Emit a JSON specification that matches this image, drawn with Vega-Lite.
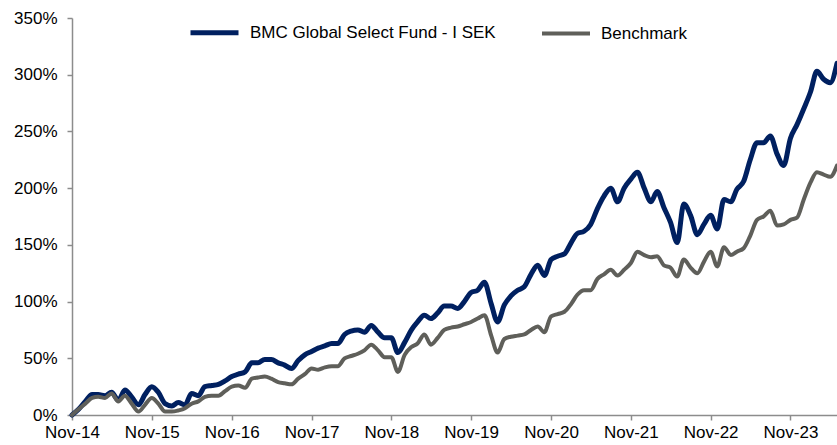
{
  "$schema": "https://vega.github.io/schema/vega-lite/v6.json",
  "width": 765,
  "height": 397,
  "autosize": "none",
  "padding": {"left": 72, "top": 18, "right": 0, "bottom": 30},
  "background": "white",
  "config": {
    "view": {"stroke": null},
    "font": "Liberation Sans"
  },
  "data": {
    "values": [
      {"date":"2014-11-01","fund":0,"index":0},
      {"date":"2014-12-01","fund":5,"index":5},
      {"date":"2015-01-01","fund":12,"index":10},
      {"date":"2015-02-01","fund":18,"index":15},
      {"date":"2015-03-01","fund":18,"index":16},
      {"date":"2015-04-01","fund":17,"index":15},
      {"date":"2015-05-01","fund":20,"index":19},
      {"date":"2015-06-01","fund":13,"index":12},
      {"date":"2015-07-01","fund":22,"index":17},
      {"date":"2015-08-01","fund":16,"index":10},
      {"date":"2015-09-01","fund":9,"index":3},
      {"date":"2015-10-01","fund":18,"index":9},
      {"date":"2015-11-01","fund":25,"index":15},
      {"date":"2015-12-01","fund":20,"index":10},
      {"date":"2016-01-01","fund":10,"index":3},
      {"date":"2016-02-01","fund":8,"index":3},
      {"date":"2016-03-01","fund":11,"index":4},
      {"date":"2016-04-01","fund":9,"index":6},
      {"date":"2016-05-01","fund":19,"index":10},
      {"date":"2016-06-01","fund":17,"index":12},
      {"date":"2016-07-01","fund":25,"index":16},
      {"date":"2016-08-01","fund":26,"index":17},
      {"date":"2016-09-01","fund":27,"index":17},
      {"date":"2016-10-01","fund":30,"index":21},
      {"date":"2016-11-01","fund":34,"index":25},
      {"date":"2016-12-01","fund":36,"index":26},
      {"date":"2017-01-01","fund":38,"index":24},
      {"date":"2017-02-01","fund":46,"index":32},
      {"date":"2017-03-01","fund":46,"index":33},
      {"date":"2017-04-01","fund":49,"index":34},
      {"date":"2017-05-01","fund":49,"index":32},
      {"date":"2017-06-01","fund":46,"index":29},
      {"date":"2017-07-01","fund":44,"index":28},
      {"date":"2017-08-01","fund":41,"index":27},
      {"date":"2017-09-01","fund":48,"index":32},
      {"date":"2017-10-01","fund":53,"index":36},
      {"date":"2017-11-01","fund":56,"index":41},
      {"date":"2017-12-01","fund":59,"index":40},
      {"date":"2018-01-01","fund":61,"index":42},
      {"date":"2018-02-01","fund":63,"index":43},
      {"date":"2018-03-01","fund":63,"index":43},
      {"date":"2018-04-01","fund":71,"index":50},
      {"date":"2018-05-01","fund":74,"index":52},
      {"date":"2018-06-01","fund":75,"index":54},
      {"date":"2018-07-01","fund":73,"index":57},
      {"date":"2018-08-01","fund":79,"index":62},
      {"date":"2018-09-01","fund":73,"index":57},
      {"date":"2018-10-01","fund":68,"index":51},
      {"date":"2018-11-01","fund":68,"index":51},
      {"date":"2018-12-01","fund":55,"index":38},
      {"date":"2019-01-01","fund":64,"index":53},
      {"date":"2019-02-01","fund":75,"index":60},
      {"date":"2019-03-01","fund":82,"index":63},
      {"date":"2019-04-01","fund":88,"index":71},
      {"date":"2019-05-01","fund":85,"index":62},
      {"date":"2019-06-01","fund":90,"index":68},
      {"date":"2019-07-01","fund":96,"index":75},
      {"date":"2019-08-01","fund":96,"index":77},
      {"date":"2019-09-01","fund":94,"index":78},
      {"date":"2019-10-01","fund":100,"index":80},
      {"date":"2019-11-01","fund":108,"index":82},
      {"date":"2019-12-01","fund":110,"index":85},
      {"date":"2020-01-01","fund":117,"index":88},
      {"date":"2020-02-01","fund":98,"index":70},
      {"date":"2020-03-01","fund":82,"index":55},
      {"date":"2020-04-01","fund":97,"index":67},
      {"date":"2020-05-01","fund":105,"index":69},
      {"date":"2020-06-01","fund":110,"index":70},
      {"date":"2020-07-01","fund":113,"index":71},
      {"date":"2020-08-01","fund":124,"index":75},
      {"date":"2020-09-01","fund":132,"index":78},
      {"date":"2020-10-01","fund":123,"index":73},
      {"date":"2020-11-01","fund":137,"index":87},
      {"date":"2020-12-01","fund":140,"index":89},
      {"date":"2021-01-01","fund":142,"index":91},
      {"date":"2021-02-01","fund":152,"index":98},
      {"date":"2021-03-01","fund":160,"index":106},
      {"date":"2021-04-01","fund":162,"index":110},
      {"date":"2021-05-01","fund":168,"index":110},
      {"date":"2021-06-01","fund":182,"index":120},
      {"date":"2021-07-01","fund":193,"index":124},
      {"date":"2021-08-01","fund":200,"index":128},
      {"date":"2021-09-01","fund":188,"index":123},
      {"date":"2021-10-01","fund":200,"index":128},
      {"date":"2021-11-01","fund":208,"index":134},
      {"date":"2021-12-01","fund":214,"index":144},
      {"date":"2022-01-01","fund":200,"index":141},
      {"date":"2022-02-01","fund":188,"index":139},
      {"date":"2022-03-01","fund":197,"index":140},
      {"date":"2022-04-01","fund":183,"index":132},
      {"date":"2022-05-01","fund":170,"index":130},
      {"date":"2022-06-01","fund":152,"index":122},
      {"date":"2022-07-01","fund":186,"index":137},
      {"date":"2022-08-01","fund":176,"index":130},
      {"date":"2022-09-01","fund":159,"index":125},
      {"date":"2022-10-01","fund":168,"index":135},
      {"date":"2022-11-01","fund":176,"index":144},
      {"date":"2022-12-01","fund":164,"index":131},
      {"date":"2023-01-01","fund":190,"index":148},
      {"date":"2023-02-01","fund":188,"index":141},
      {"date":"2023-03-01","fund":199,"index":144},
      {"date":"2023-04-01","fund":206,"index":147},
      {"date":"2023-05-01","fund":225,"index":158},
      {"date":"2023-06-01","fund":240,"index":172},
      {"date":"2023-07-01","fund":240,"index":175},
      {"date":"2023-08-01","fund":246,"index":180},
      {"date":"2023-09-01","fund":230,"index":167},
      {"date":"2023-10-01","fund":220,"index":168},
      {"date":"2023-11-01","fund":244,"index":172},
      {"date":"2023-12-01","fund":256,"index":174},
      {"date":"2024-01-01","fund":270,"index":190},
      {"date":"2024-02-01","fund":285,"index":205},
      {"date":"2024-03-01","fund":303,"index":214},
      {"date":"2024-04-01","fund":296,"index":212},
      {"date":"2024-05-01","fund":293,"index":210},
      {"date":"2024-06-01","fund":310,"index":220}
    ]
  },
  "transform": [
    {"fold": ["fund", "index"], "as": ["series", "value"]}
  ],
  "mark": {"type": "line", "interpolate": "monotone", "strokeCap": "round", "strokeJoin": "round"},
  "encoding": {
    "x": {
      "field": "date",
      "type": "temporal",
      "timeUnit": "utcyearmonth",
      "scale": {
        "domain": [
          {"year": 2014, "month": "nov", "date": 1, "utc": true},
          {"year": 2024, "month": "jun", "date": 1, "utc": true}
        ]
      },
      "axis": {
        "title": null,
        "format": "%b-%y",
        "values": [
          {"year": 2014, "month": "nov", "date": 1, "utc": true},
          {"year": 2015, "month": "nov", "date": 1, "utc": true},
          {"year": 2016, "month": "nov", "date": 1, "utc": true},
          {"year": 2017, "month": "nov", "date": 1, "utc": true},
          {"year": 2018, "month": "nov", "date": 1, "utc": true},
          {"year": 2019, "month": "nov", "date": 1, "utc": true},
          {"year": 2020, "month": "nov", "date": 1, "utc": true},
          {"year": 2021, "month": "nov", "date": 1, "utc": true},
          {"year": 2022, "month": "nov", "date": 1, "utc": true},
          {"year": 2023, "month": "nov", "date": 1, "utc": true}
        ],
        "grid": false,
        "domainColor": "#8c8c8c",
        "domainWidth": 1.5,
        "tickColor": "#8c8c8c",
        "tickWidth": 1.5,
        "tickSize": 5,
        "labelFontSize": 17,
        "labelFont": "Liberation Sans",
        "labelColor": "#000000",
        "labelPadding": 4,
        "labelFlush": false,
        "labelOverlap": false
      }
    },
    "y": {
      "field": "value",
      "type": "quantitative",
      "scale": {"domain": [0, 350], "nice": false},
      "axis": {
        "title": null,
        "values": [0, 50, 100, 150, 200, 250, 300, 350],
        "labelExpr": "datum.value + '%'",
        "grid": false,
        "domainColor": "#8c8c8c",
        "domainWidth": 1.5,
        "tickColor": "#8c8c8c",
        "tickWidth": 1.5,
        "tickSize": 5,
        "labelFontSize": 17,
        "labelFont": "Liberation Sans",
        "labelColor": "#000000",
        "labelPadding": 10
      }
    },
    "color": {
      "field": "series",
      "type": "nominal",
      "scale": {"domain": ["fund", "index"], "range": ["#002060", "#5f5f5a"]},
      "legend": {
        "title": null,
        "orient": "none",
        "direction": "horizontal",
        "legendX": 116,
        "legendY": -12,
        "symbolType": "stroke",
        "symbolStrokeWidth": 5,
        "symbolSize": 2304,
        "labelFontSize": 17,
        "labelFont": "Liberation Sans",
        "labelColor": "#000000",
        "labelOffset": 9,
        "columnPadding": 38,
        "labelLimit": 400,
        "labelExpr": "datum.label == 'fund' ? 'BMC Global Select Fund - I SEK' : 'Benchmark'"
      }
    },
    "strokeWidth": {
      "field": "series",
      "type": "nominal",
      "scale": {"domain": ["fund", "index"], "range": [5, 4]},
      "legend": null
    }
  }
}
